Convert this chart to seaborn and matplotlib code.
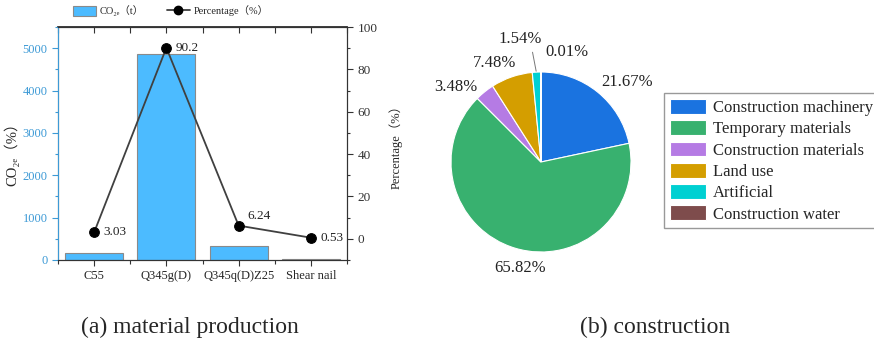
import numpy as np
import pandas as pd
import matplotlib
matplotlib.use("Agg")
import matplotlib.pyplot as plt
import seaborn as sns
from matplotlib.patches import Patch
from matplotlib.lines import Line2D
from matplotlib.ticker import MultipleLocator

# (a) material production
materials = ["C55", "Q345g(D)", "Q345q(D)Z25", "Shear nail"]
co2e_t = [163, 4858, 336, 29]
share_pct = [3.03, 90.2, 6.24, 0.53]
share_labels = ["3.03", "90.2", "6.24", "0.53"]

# (b) construction
sources = ["Construction machinery", "Temporary materials", "Construction materials",
           "Land use", "Artificial", "Construction water"]
source_pct = [21.67, 65.82, 3.48, 7.48, 1.54, 0.01]
source_labels = ["21.67%", "65.82%", "3.48%", "7.48%", "1.54%", "0.01%"]
source_colors = ["#1a73e0", "#38b16f", "#b57be4", "#d49e00", "#00d0d2", "#7e4c4c"]

sns.set_theme(style="ticks")
FAMILY = ["Liberation Serif", "Noto Sans CJK SC", "DejaVu Serif", "DejaVu Sans"]
plt.rcParams["font.family"] = FAMILY

BLUE_AX = "#3d9ad6"
DARK = "#333333"

W, H = 874, 349
fig = plt.figure(figsize=(W / 100, H / 100), dpi=100)

# ---------- bar + line panel ----------
ax = fig.add_axes([58 / W, 1 - 260 / H, 289 / W, 233 / H])
df = pd.DataFrame({"material": materials, "co2e": co2e_t})
sns.barplot(data=df, x="material", y="co2e", color="#4cbbff", edgecolor="#8a8a8a",
            linewidth=0.8, width=0.8, saturation=1, ax=ax)
ax.set_xlim(-0.5, 3.5)
ax.set_ylim(0, 5500)
ax.set_xlabel("")
ax.set_ylabel("CO₂ₑ（%）", fontsize=10.5)
ax.yaxis.set_label_coords(-0.135, 0.47)
ax.yaxis.set_major_locator(MultipleLocator(1000))
ax.yaxis.set_minor_locator(MultipleLocator(500))
ax.xaxis.set_minor_locator(MultipleLocator(0.5))
ax.tick_params(axis="y", which="major", labelsize=9, labelcolor=BLUE_AX, color=BLUE_AX,
               direction="out", length=4, width=0.8)
ax.tick_params(axis="y", which="minor", direction="out", length=2, width=0.8, color=BLUE_AX)
ax.tick_params(axis="x", which="both", labelsize=9, direction="out",
               length=4, width=0.8, top=False, color=DARK)
ax.tick_params(axis="x", which="minor", length=3)
for s in ax.spines.values():
    s.set_visible(True)
    s.set_linewidth(0.8)
    s.set_color(DARK)

# top ticks pointing inward
axt = ax.secondary_xaxis("top")
axt.set_xticks(np.arange(-0.5, 3.6, 0.5))
axt.tick_params(direction="in", length=4, width=0.8, labeltop=False, color=DARK)
axt.set_xticklabels([])

ax2 = ax.twinx()
sns.lineplot(x=np.arange(len(materials)), y=share_pct, ax=ax2, color="#404040", lw=1.3,
             marker="o", markersize=7, markerfacecolor="black", markeredgecolor="black")
ax2.set_ylim(-10, 100)
ax2.yaxis.set_major_locator(MultipleLocator(20))
ax2.yaxis.set_minor_locator(MultipleLocator(10))
ax2.tick_params(axis="y", which="major", labelsize=9.5, labelcolor=DARK, color=DARK,
                direction="out", length=4, width=0.8)
ax2.tick_params(axis="y", which="minor", direction="out", length=2, width=0.8, color=DARK)
ax2.set_ylabel("Percentage（%）", fontsize=9, labelpad=8)
for s in ax2.spines.values():
    s.set_linewidth(0.8)
    s.set_color(DARK)
ax2.spines["left"].set_color(BLUE_AX)

offsets = [(7, 0), (7, 0), (6, 7), (7, 0)]
for i, (v, lab) in enumerate(zip(share_pct, share_labels)):
    ax2.annotate(lab, (i, v), xytext=offsets[i], textcoords="offset points",
                 ha="left", va="center", fontsize=9.5, color="#222222")

handles = [Patch(facecolor="#4cbbff", edgecolor="#8a8a8a", linewidth=0.8),
           Line2D([], [], color="#404040", lw=1.3, marker="o", markersize=6,
                  markerfacecolor="black", markeredgecolor="black")]
fig.legend(handles, ["CO₂ₑ（t）", "Percentage（%）"], loc="center",
           bbox_to_anchor=(171 / W, 1 - 11 / H), ncol=2, frameon=False,
           fontsize=7.5, handlelength=2.2, handleheight=1.15, columnspacing=2.2,
           handletextpad=0.4)

# ---------- pie panel ----------
cx, cy, r = 541, 162, 90
axp = fig.add_axes([(cx - r) / W, 1 - (cy + r) / H, 2 * r / W, 2 * r / H])
wedges, _ = axp.pie(source_pct, colors=source_colors, startangle=90, counterclock=False,
                    radius=1, wedgeprops=dict(edgecolor="white", linewidth=0.8))
axp.set_xlim(-1, 1)
axp.set_ylim(-1, 1)
axp.set_aspect("equal")

# label placement: angular shift from wedge middle (deg), radial distance
label_shift = [-8, 5.5, 9.8, 6, 6.8, -13.3]
label_dist = [1.3, 1.2, 1.26, 1.22, 1.39, 1.26]
for w, lab, da, rd in zip(wedges, source_labels, label_shift, label_dist):
    mid = np.deg2rad((w.theta1 + w.theta2) / 2 + da)
    axp.text(rd * np.cos(mid), rd * np.sin(mid), lab, ha="center", va="center",
             fontsize=12, color="#222222", clip_on=False)
# leader line for the thin "Artificial" wedge
w = wedges[4]
mid = np.deg2rad((w.theta1 + w.theta2) / 2)
axp.annotate("", xy=(0.98 * np.cos(mid), 0.98 * np.sin(mid)),
             xytext=(-0.1, 1.25), textcoords="data",
             arrowprops=dict(arrowstyle="-", color="#777777", lw=0.7), annotation_clip=False)

fig.legend(wedges, sources, loc="upper left", bbox_to_anchor=(664 / W, 1 - 93 / H),
           fontsize=12, frameon=True, fancybox=False, edgecolor="#999999",
           framealpha=1, handlelength=2.15, handleheight=1.0, labelspacing=0.25,
           handletextpad=0.45, borderpad=0.35, borderaxespad=0)

# ---------- captions ----------
fig.text(190 / W, 1 - 327 / H, "(a) material production", ha="center", va="center",
         fontsize=17)
fig.text(655 / W, 1 - 327 / H, "(b) construction", ha="center", va="center",
         fontsize=17)

fig.savefig("out.png", dpi=100)
